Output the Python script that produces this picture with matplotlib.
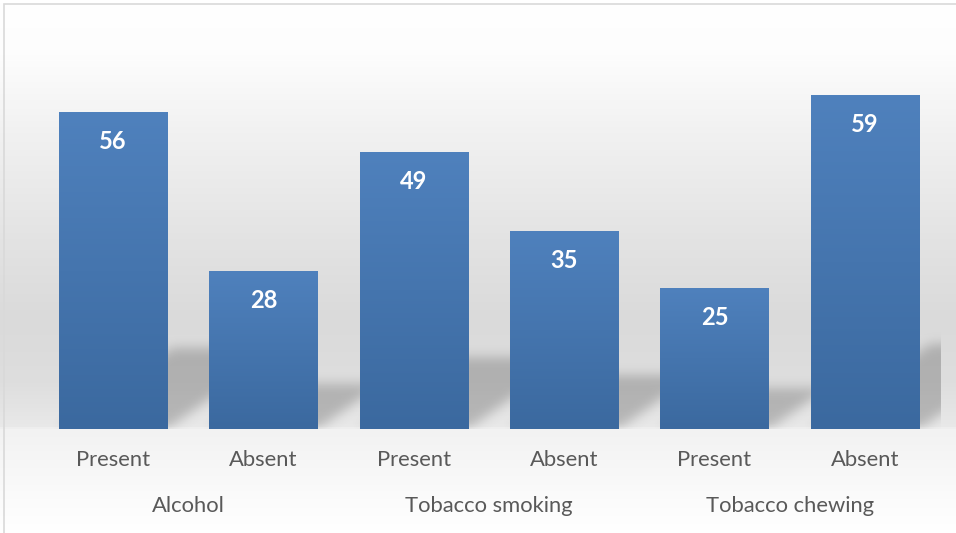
#!/usr/bin/env python3
"""
Substance use: present / absent counts, Office-style column chart
"""

import numpy as np
import matplotlib
matplotlib.use("Agg")
import matplotlib.pyplot as plt
from matplotlib.colors import LinearSegmentedColormap, to_rgb
from matplotlib.patches import Rectangle

groups = ["Alcohol", "Tobacco smoking", "Tobacco chewing"]
status = ["Present", "Absent"]
values = [56, 28, 49, 35, 25, 59]

W, H, DPI = 956, 533, 100
plt.rcParams["font.family"] = ["Lato", "DejaVu Sans"]


def box_blur(a, r, n=3):
    """repeated box blur along both axes"""
    for _ in range(n):
        k = np.ones(2 * r + 1) / (2 * r + 1)
        a = np.apply_along_axis(lambda m: np.convolve(m, k, mode="same"), 0, a)
        a = np.apply_along_axis(lambda m: np.convolve(m, k, mode="same"), 1, a)
    return a


fig = plt.figure(figsize=(W / DPI, H / DPI), dpi=DPI)

# background: vertical gradient white -> gray -> white
bg = fig.add_axes([0, 0, 1, 1])
bg.set_axis_off()
stops = [(0.00, "#ffffff"), (0.10, "#fdfdfd"), (0.25, "#f1f1f1"),
         (0.45, "#e3e3e3"), (0.60, "#dadada"), (0.72, "#dedede"),
         (0.80, "#e8e8e8"), (0.806, "#f2f2f2"), (1.00, "#ffffff")]
cmap_bg = LinearSegmentedColormap.from_list("bg", stops)
grad = np.linspace(0, 1, 533)[:, None]
bg.imshow(grad, cmap=cmap_bg, aspect="auto", extent=[0, 1, 0, 1],
          origin="upper", vmin=0, vmax=1)
bg.set_xlim(0, 1)
bg.set_ylim(0, 1)
bg.add_patch(Rectangle((4 / W, -0.01), 1.0, 1.01 - 4 / H, fill=False,
                       edgecolor="#d9d9d9", linewidth=1.2,
                       transform=bg.transAxes))

# plot area
left_px, right_px, base_px, ymax = 38, 940, 429, 70
ax_h_px = ymax * 5.66
ax = fig.add_axes([left_px / W, (H - base_px) / H,
                   (right_px - left_px) / W, ax_h_px / H])
ax.patch.set_visible(False)
for s in ax.spines.values():
    s.set_visible(False)
ax.set_xticks([])
ax.set_yticks([])
x = np.arange(len(values))
bw = 0.72

# perspective shadows behind bars (rasterised and blurred)
nx, ny = right_px - left_px + 60, int(ax_h_px)
px_per_x = (right_px - left_px) / len(values)
px_per_y = ax_h_px / ymax
xx, yy = np.meshgrid(np.arange(nx), np.arange(ny))
mask = np.zeros((ny, nx))
for xi, v in zip(x, values):
    hpx = v * px_per_y
    hs = 8 + 0.23 * hpx
    dx = 1.4 * hs
    xl = (xi - bw / 2 + 0.5) * px_per_x
    xr = (xi + bw / 2 + 0.5) * px_per_x
    shift = yy / hs * dx
    m = (yy <= hs) & (xx >= xl + shift) & (xx <= xr + shift)
    mask = np.maximum(mask, m.astype(float))
mask = box_blur(mask, 5)
sh = np.zeros((ny, nx, 4))
sh[..., :3] = 0.38
sh[..., 3] = 0.36 * mask
ax.imshow(sh, origin="lower", aspect="auto", zorder=1,
          extent=[-0.5, -0.5 + nx / px_per_x, 0, ny / px_per_y])

# bars with vertical gradient
top_c, bot_c = np.array(to_rgb("#4f81bd")), np.array(to_rgb("#3b699f"))
bars = ax.bar(x, values, width=bw, color="#4a7ab5", zorder=2)
for b, v in zip(bars, values):
    t = np.linspace(0, 1, 200)[:, None]
    img = (1 - t)[..., None] * bot_c + t[..., None] * top_c
    im = ax.imshow(img, origin="lower", aspect="auto", zorder=3,
                   extent=[b.get_x(), b.get_x() + bw, 0, v])
    im.set_clip_path(b)
    ax.annotate(str(v), (b.get_x() + bw / 2, v), xytext=(0, -21.5),
                textcoords="offset points", ha="center", va="center",
                color="white", fontsize=17, fontweight="bold", zorder=4)
ax.set_xlim(-0.5, len(values) - 0.5)
ax.set_ylim(0, ymax)

# two-level category labels
tr = ax.get_xaxis_transform()
for i, xi in enumerate(x):
    ax.text(xi, -31 / ax_h_px, status[i % 2], transform=tr, ha="center",
            va="center", fontsize=15.8, color="#595959")
for g, name in enumerate(groups):
    ax.text(2 * g + 0.5, -77 / ax_h_px, name, transform=tr, ha="center",
            va="center", fontsize=15.8, color="#595959")

plt.savefig("out.png", dpi=DPI)
